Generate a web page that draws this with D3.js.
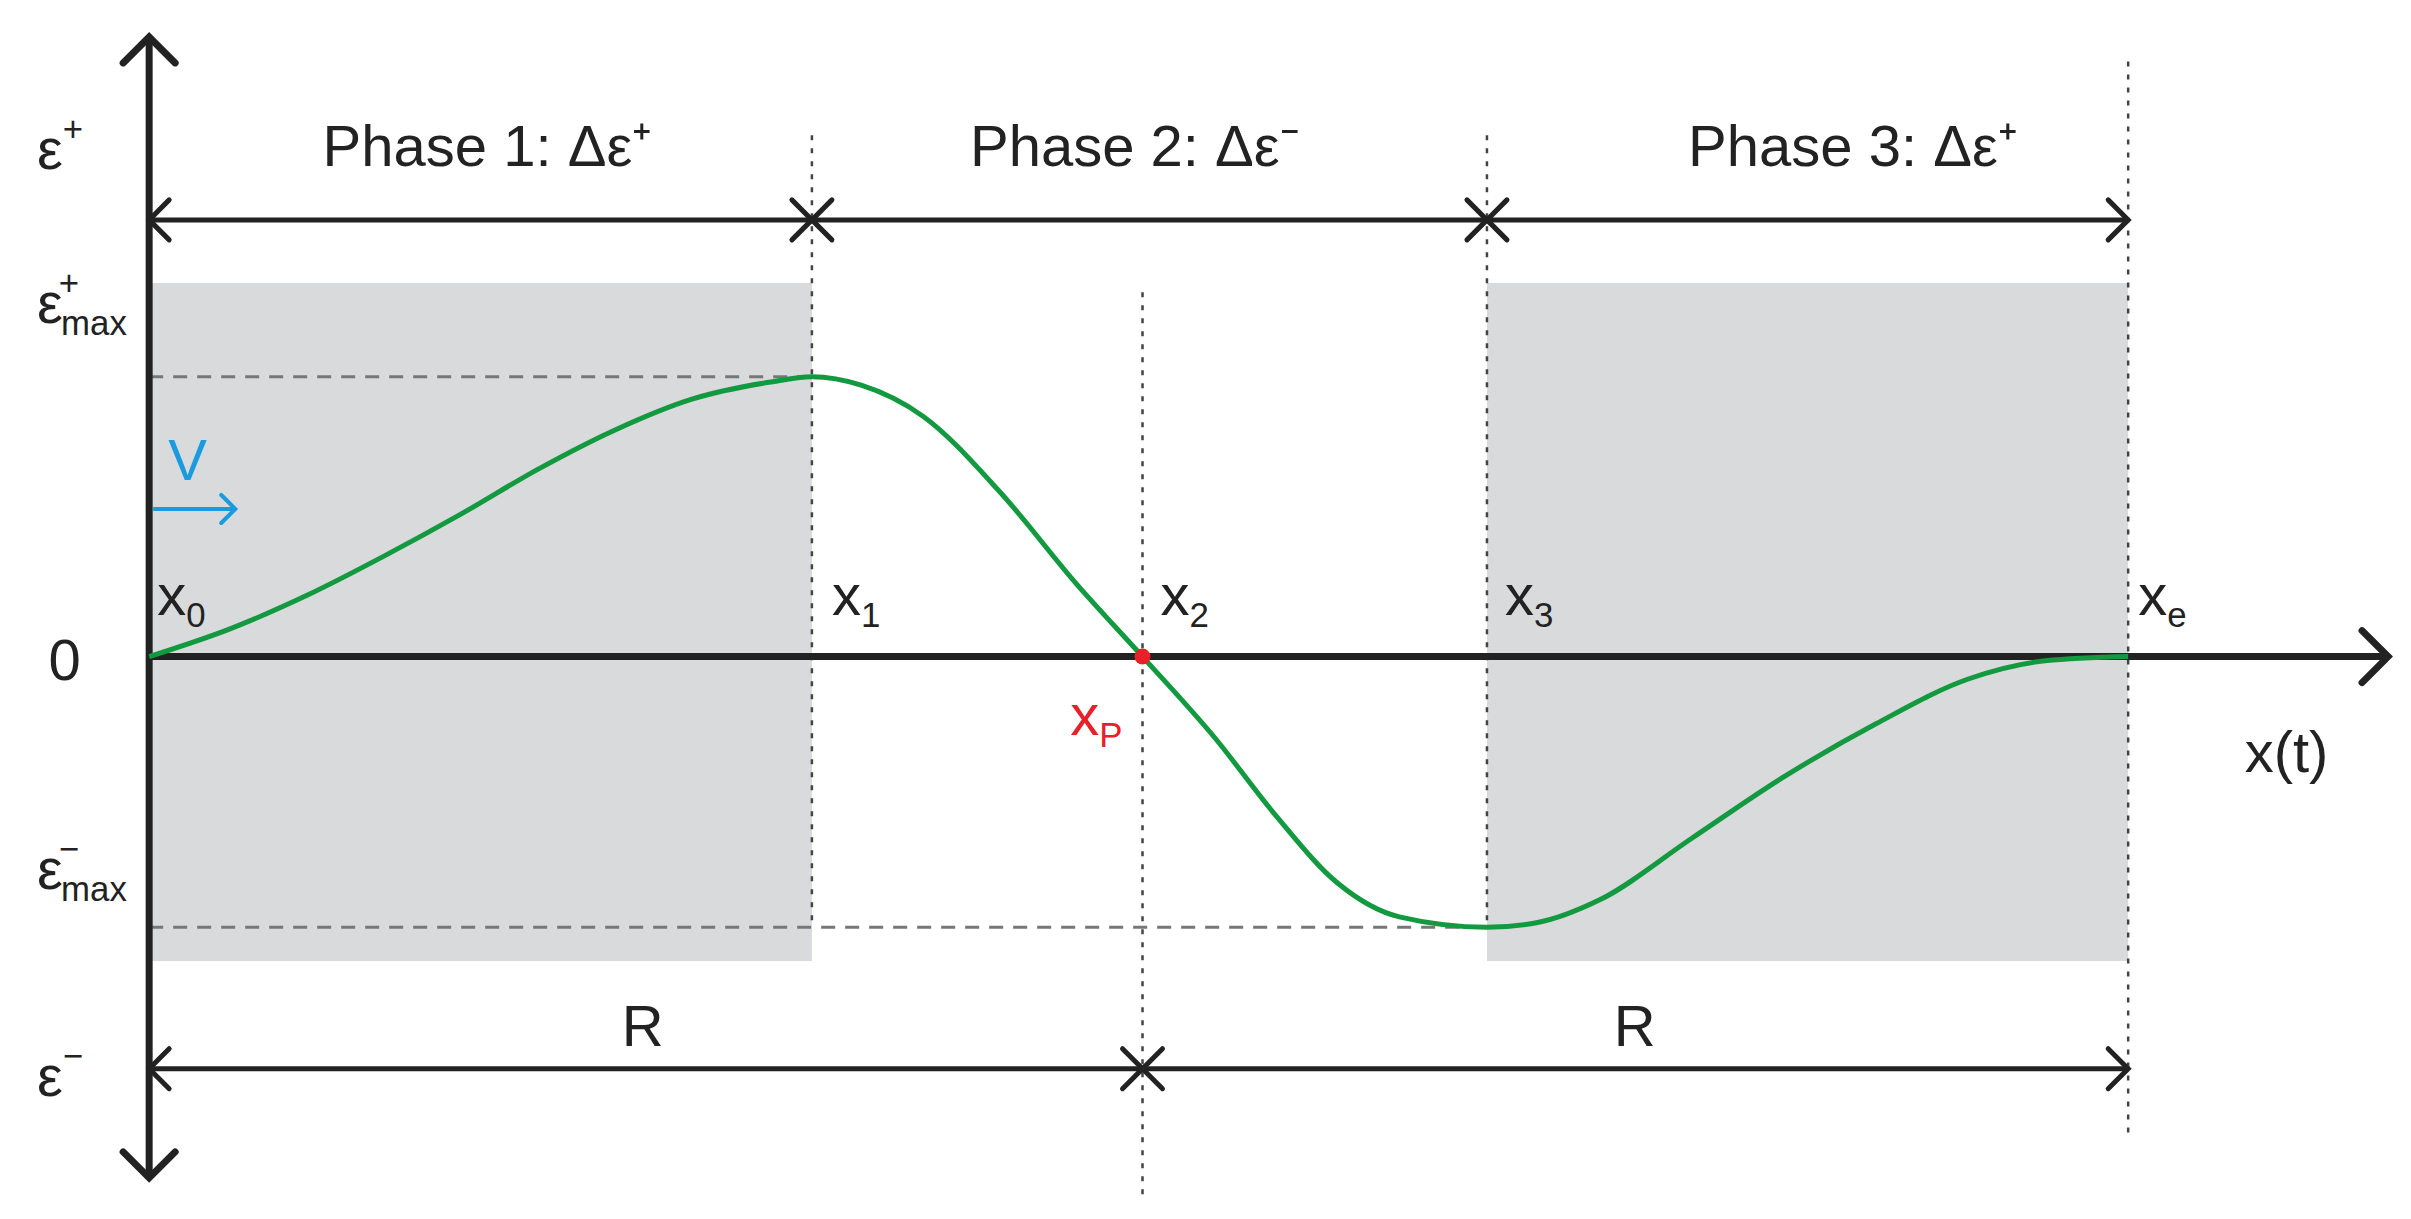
<!DOCTYPE html>
<html><head><meta charset="utf-8">
<script src="https://cdn.jsdelivr.net/npm/d3@7"></script>
<style>body{margin:0;background:#fff}text{font-family:"Liberation Sans Narrow","Liberation Sans",Arial,sans-serif;fill:#222}</style>
</head><body><svg id="c" width="2411" height="1219"></svg>
<script>
// positions along x (reference px units), strain normalised to eps+max = 1
var xMarks = [0, 431, 646, 870, 1287];          // x0, x1, x2, x3, xe
var xLabels = ["0", "1", "2", "3", "e"];
var curveX = [0,53,103,153,203,253,303,353,403,431,463,503,553,603,646,693,733,773,813,870,903,943,1003,1063,1123,1183,1233,1287];
var curveY = [0,0.10,0.22,0.36,0.51,0.67,0.81,0.92,0.98,1.0,0.97,0.86,0.59,0.26,0,-0.29,-0.57,-0.81,-0.93,-0.967,-0.95,-0.87,-0.65,-0.43,-0.24,-0.08,-0.015,0];
var phases = ["Phase 1: Δε⁺", "Phase 2: Δε⁻", "Phase 3: Δε⁺"];

var k = 1.5377;
var svg = d3.select("#c");
var x = d3.scaleLinear().domain([0, 1287]).range([97*k, 1384*k]);
var y = d3.scaleLinear().domain([-0.967, 1]).range([603*k, 245*k]);
var y0 = y(0), ax = x(0);
var bandTop = 184*k, bandBot = 625*k;

// grey bands
[[0,1],[3,4]].forEach(function(p){
  svg.append("rect").attr("x", x(xMarks[p[0]])).attr("y", bandTop)
    .attr("width", x(xMarks[p[1]]) - x(xMarks[p[0]])).attr("height", bandBot - bandTop)
    .attr("fill", "#d9dadb");
});

// dotted verticals
var vspan = [[88,600],[190,780],[88,603],[40,740]];
[1,2,3,4].forEach(function(i,j){
  svg.append("line").attr("x1", x(xMarks[i])).attr("x2", x(xMarks[i]))
    .attr("y1", vspan[j][0]*k).attr("y2", vspan[j][1]*k)
    .attr("stroke", "#444").attr("stroke-width", 2.5).attr("stroke-dasharray", "5,8");
});

// dashed max lines
svg.append("line").attr("x1", ax).attr("x2", x(xMarks[1])).attr("y1", y(1)).attr("y2", y(1))
  .attr("stroke", "#777").attr("stroke-width", 3).attr("stroke-dasharray", "14,10");
svg.append("line").attr("x1", ax).attr("x2", x(xMarks[3])).attr("y1", y(-0.967)).attr("y2", y(-0.967))
  .attr("stroke", "#777").attr("stroke-width", 3).attr("stroke-dasharray", "14,10");

function head(px, py, dir, col, sz, w){
  sz = sz || 24;
  var d;
  if (dir === "r") d = [[px-sz,py-sz],[px,py],[px-sz,py+sz]];
  if (dir === "l") d = [[px+sz,py-sz],[px,py],[px+sz,py+sz]];
  if (dir === "u") d = [[px-sz,py+sz],[px,py],[px+sz,py+sz]];
  if (dir === "d") d = [[px-sz,py-sz],[px,py],[px+sz,py-sz]];
  svg.append("path").attr("d", d3.line()(d)).attr("fill","none")
    .attr("stroke", col || "#222").attr("stroke-width", w || 6).attr("stroke-linecap","round");
}
function dbl(xa, xb, yy){
  svg.append("line").attr("x1", xa).attr("x2", xb).attr("y1", yy).attr("y2", yy)
    .attr("stroke","#222").attr("stroke-width",5);
  head(xa, yy, "l", "#222", 20, 5); head(xb, yy, "r", "#222", 20, 5);
}

// axes
svg.append("line").attr("x1", ax).attr("x2", ax).attr("y1", 24*k).attr("y2", 766*k).attr("stroke","#222").attr("stroke-width",7);
head(ax, 24*k, "u", "#222", 26, 7); head(ax, 766*k, "d", "#222", 26, 7);
svg.append("line").attr("x1", ax).attr("x2", 1553*k).attr("y1", y0).attr("y2", y0).attr("stroke","#222").attr("stroke-width",7);
head(1553*k, y0, "r", "#222", 26, 7);

// phase arrows
dbl(x(xMarks[0]), x(xMarks[1]), 143*k);
dbl(x(xMarks[1]), x(xMarks[3]), 143*k);
dbl(x(xMarks[3]), x(xMarks[4]), 143*k);
dbl(x(xMarks[0]), x(xMarks[2]), 695*k);
dbl(x(xMarks[2]), x(xMarks[4]), 695*k);

// curve
var pts = curveX.map(function(v,i){ return [x(v), y(curveY[i])]; });
svg.append("path").attr("d", d3.line().curve(d3.curveMonotoneX)(pts))
  .attr("fill","none").attr("stroke","#13993f").attr("stroke-width",5);

svg.append("circle").attr("cx", x(xMarks[2])).attr("cy", y0).attr("r", 8).attr("fill","#e8202a");

// texts
var fs = 58;
phases.forEach(function(t,i){
  var cx = [317, 738, 1205][i]*k;
  svg.append("text").attr("x", cx).attr("y", 108*k).attr("text-anchor","middle").attr("font-size", fs).text(t);
});
function sub(px, py, main, s, col, anchor){
  var t = svg.append("text").attr("x", px).attr("y", py).attr("font-size", fs).attr("text-anchor", anchor || "start");
  if (col) t.style("fill", col);
  t.append("tspan").text(main);
  t.append("tspan").attr("font-size", fs*0.6).attr("dy", 12).text(s);
}
xLabels.forEach(function(l,i){
  var dx = [8, 20, 18, 18, 10][i];
  sub(x(xMarks[i]) + dx, 400*k, "x", l);
});
sub(696*k, 478*k, "x", "P", "#e8202a");
svg.append("text").attr("x", 1487*k).attr("y", 502*k).attr("font-size", fs).attr("text-anchor","middle").text("x(t)");
svg.append("text").attr("x", 418*k).attr("y", 680*k).attr("font-size", fs).attr("text-anchor","middle").text("R");
svg.append("text").attr("x", 1063*k).attr("y", 680*k).attr("font-size", fs).attr("text-anchor","middle").text("R");
svg.append("text").attr("x", 42*k).attr("y", 442*k).attr("font-size", fs).attr("text-anchor","middle").text("0");

function eps(py, sup, subt){
  var t = svg.append("text").attr("x", 24*k).attr("y", py).attr("font-size", fs);
  t.append("tspan").text("ε");
  if (subt) {
    t.append("tspan").attr("font-size", fs*0.6).attr("dx", -4).attr("dy", -28).text(sup);
    t.append("tspan").attr("font-size", fs*0.6).attr("dx", -18).attr("dy", 40).text(subt);
  } else {
    t.append("tspan").attr("font-size", fs*0.6).attr("dy", -28).text(sup);
  }
}
eps(110*k, "+");
eps(210*k, "+", "max");
eps(578*k, "−", "max");
eps(713*k, "−");

// velocity
svg.append("text").attr("x", 122*k).attr("y", 312*k).attr("font-size", fs).attr("text-anchor","middle").style("fill","#1a9be0").text("V");
svg.append("line").attr("x1", ax+4).attr("x2", 153*k).attr("y1", 331*k).attr("y2", 331*k).attr("stroke","#1a9be0").attr("stroke-width",4);
head(153*k, 331*k, "r", "#1a9be0", 14, 4);
</script></body></html>
